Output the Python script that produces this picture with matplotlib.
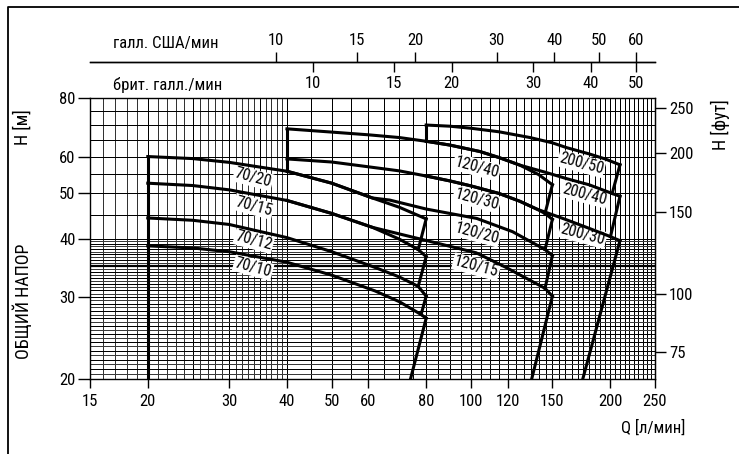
import numpy as np
import matplotlib
matplotlib.use("Agg")
import matplotlib.pyplot as plt
from matplotlib import font_manager as fm
from matplotlib.lines import Line2D
from matplotlib.ticker import NullLocator


def pick_font():
    # the original uses a narrow sans, take one if there is any
    entries = fm.fontManager.ttflist
    for want in ['Liberation Sans Narrow', 'Roboto Condensed', 'Open Sans Condensed',
                 'DejaVu Sans Condensed', 'Noto Sans Condensed', 'Noto Sans SemiCondensed']:
        if any(e.name == want for e in entries):
            return want, 'normal'
    for e in entries:
        if e.stretch in ('condensed', 'semi-condensed') and e.style == 'normal':
            return e.name, e.stretch
    return 'Roboto', 'normal'


font_name, font_stretch = pick_font()
plt.rcParams['font.family'] = [font_name, 'DejaVu Sans']
plt.rcParams['font.stretch'] = font_stretch

# axis ticks
q_ticks = [15, 20, 30, 40, 50, 60, 80, 100, 120, 150, 200, 250]
h_ticks = [20, 30, 40, 50, 60, 80]
ft_ticks = [75, 100, 150, 200, 250]
us_ticks = [10, 15, 20, 30, 40, 50, 60]
uk_ticks = [10, 15, 20, 30, 40, 50]

# pump curves, Q [l/min] vs H [m]
q_70_20 = [20, 25, 30, 40, 50, 61.2, 70, 80]
h_70_20 = [60.0, 59.4, 58.3, 55.8, 52.6, 48.9, 46.7, 44.1]
q_70_15 = [20, 25, 30, 40, 50, 61.2, 70, 76.9, 80]
h_70_15 = [52.6, 52.0, 50.9, 48.3, 45.3, 42.3, 39.9, 37.9, 36.6]
q_70_12 = [20, 25, 30, 40, 50, 62, 70, 76.9, 80]
h_70_12 = [44.3, 43.8, 42.9, 40.2, 37.5, 34.7, 33.1, 31.6, 30.1]
q_70_10 = [20, 25, 30, 40, 50, 62, 70, 78, 80]
h_70_10 = [38.6, 38.2, 37.5, 35.6, 33.4, 30.9, 29.3, 27.5, 27.0]

q_120_40 = [40, 50, 60, 70, 80, 90, 104.6, 115, 127.6, 140, 150]
h_120_40 = [68.8, 67.7, 66.8, 65.9, 64.7, 63.5, 61.5, 59.7, 57.5, 54.9, 52.2]
q_120_30 = [40, 50, 60.3, 70, 80, 90, 100, 115, 127.6, 138.7, 144.6, 150]
h_120_30 = [59.3, 58.4, 57.0, 55.9, 54.5, 53.2, 51.9, 50.0, 48.1, 46.3, 45.3, 44.0]
q_120_20 = [40, 50, 61.2, 66.7, 80, 102.9, 123, 144.6, 150]
h_120_20 = [55.8, 52.6, 48.9, 48.4, 46.3, 44.2, 41.4, 37.9, 36.8]
q_120_15 = [40, 50, 61.2, 78.7, 102.6, 118.4, 144.6, 150]
h_120_15 = [48.3, 45.3, 42.3, 39.8, 37.3, 34.8, 31.3, 30.1]

q_200_50 = [80, 90, 100, 115, 134.2, 150, 161, 180, 195, 210]
h_200_50 = [70.1, 69.7, 69.0, 67.8, 65.9, 64.2, 62.7, 60.8, 59.3, 57.6]
q_200_40 = [80, 90, 104.6, 115, 127.6, 145, 161, 180, 202, 210]
h_200_40 = [64.7, 63.5, 61.5, 59.7, 57.5, 55.5, 53.8, 52.2, 50.0, 49.3]
q_200_30 = [80, 90, 100, 115, 127.6, 138.7, 160, 180, 200.3, 210]
h_200_30 = [54.5, 53.2, 51.9, 50.0, 48.1, 46.3, 44.0, 42.1, 40.4, 39.6]

# left edges of each family (Q, H from, H to)
edge_q = [20, 40, 80]
edge_h0 = [20.0, 55.8, 64.7]
edge_h1 = [60.0, 68.8, 70.1]

# right limit lines (from curve end to next curve / to axis)
drop_q = [(80, 76.9), (80, 76.9), (80, 78), (80, 74),
          (150, 144.6), (150, 144.6), (150, 144.6), (150, 135.3),
          (210, 202), (210, 200.3), (210, 174.5)]
drop_h = [(44.1, 37.9), (36.6, 31.6), (30.1, 27.5), (27.0, 20.0),
          (52.2, 45.3), (44.0, 37.9), (36.8, 31.3), (30.1, 20.0),
          (57.6, 50.0), (49.3, 40.4), (39.6, 20.0)]

curve_names = ["70/20", "70/15", "70/12", "70/10",
               "120/40", "120/30", "120/20", "120/15",
               "200/50", "200/40", "200/30"]
curves_q = [q_70_20, q_70_15, q_70_12, q_70_10,
            q_120_40, q_120_30, q_120_20, q_120_15,
            q_200_50, q_200_40, q_200_30]
curves_h = [h_70_20, h_70_15, h_70_12, h_70_10,
            h_120_40, h_120_30, h_120_20, h_120_15,
            h_200_50, h_200_40, h_200_30]
# where the names sit
label_q = [33.8, 33.9, 33.9, 33.8, 102.9, 102.9, 102.9, 102.6, 173.2, 176.1, 174.6]
label_h = [54.0, 46.9, 39.6, 34.7, 56.9, 48.6, 41.1, 34.8, 57.9, 49.8, 40.8]

# background grid
grid_q = ([16, 17, 18, 19] + list(range(20, 40)) + list(range(40, 251, 5)))
grid_h = list(np.arange(20, 40, 0.5)) + list(range(40, 81, 5))

L_PER_USG = 3.78541
L_PER_UKG = 4.54609
M_PER_FT = 0.3048

fig = plt.figure(figsize=(7.39, 4.54), dpi=100)
ax = fig.add_axes([0.1218, 0.1652, 0.7645, 0.6183])
ax.set_xscale('log')
ax.set_yscale('log')
ax.set_xlim(15, 250)
ax.set_ylim(20, 80)

for q in grid_q:
    col = 'black' if q % 5 == 0 else '#333333'
    ax.axvline(q, color=col, lw=0.5, zorder=1, antialiased=False)
for h in grid_h:
    col = 'black' if abs(h - round(h)) < 1e-6 else '#3a3a3a'
    ax.axhline(h, color=col, lw=0.5, zorder=1, antialiased=False)
ax.axhline(35, color='black', lw=1.6, zorder=1)

for qs, hs in zip(curves_q, curves_h):
    ax.plot(qs, hs, color='black', lw=2.2, zorder=4, solid_joinstyle='miter')
for q, h0, h1 in zip(edge_q, edge_h0, edge_h1):
    ax.plot([q, q], [h0, h1], color='black', lw=2.2, zorder=4)
for qq, hh in zip(drop_q, drop_h):
    ax.plot(qq, hh, color='black', lw=2.2, zorder=4)

for name, q, h in zip(curve_names, label_q, label_h):
    ax.text(q, h, name, rotation=-15, ha='center', va='center', fontsize=11.5,
            rotation_mode='anchor', zorder=3,
            bbox=dict(facecolor='white', edgecolor='none', pad=0.8))

ax.set_xticks(q_ticks, labels=[str(t) for t in q_ticks])
ax.set_yticks(h_ticks, labels=[str(t) for t in h_ticks])
ax.xaxis.set_minor_locator(NullLocator())
ax.yaxis.set_minor_locator(NullLocator())
ax.tick_params(axis='x', length=6.5, width=1, pad=4, labelsize=12)
ax.tick_params(axis='y', length=9, width=1, pad=1.5, labelsize=12)
for s in ax.spines.values():
    s.set_linewidth(1.0)

ax_ft = ax.secondary_yaxis('right', functions=(lambda m: m / M_PER_FT,
                                                lambda f: f * M_PER_FT))
ax_ft.set_yticks(ft_ticks, labels=[str(t) for t in ft_ticks])
ax_ft.yaxis.set_minor_locator(NullLocator())
ax_ft.tick_params(length=8, width=1, pad=2, labelsize=12)

# gallon scales above the chart
ax_g = fig.add_axes([0.1218, 0.8634, 0.7645, 0.001])
ax_g.set_xscale('log')
ax_g.set_xlim(15, 250)
ax_g.set_yticks([])
ax_g.set_xticks([])
ax_g.xaxis.set_minor_locator(NullLocator())
for s in ax_g.spines.values():
    s.set_visible(False)
ax_g.patch.set_alpha(0)

ax_us = ax_g.secondary_xaxis('top', functions=(lambda l: l / L_PER_USG,
                                                lambda g: g * L_PER_USG))
ax_us.set_xticks(us_ticks, labels=[str(t) for t in us_ticks])
ax_us.xaxis.set_minor_locator(NullLocator())
ax_us.tick_params(length=7, width=1, pad=3, labelsize=12)
ax_us.spines['top'].set_linewidth(1.0)

ax_uk = ax_g.secondary_xaxis('bottom', functions=(lambda l: l / L_PER_UKG,
                                                   lambda g: g * L_PER_UKG))
ax_uk.set_xticks(uk_ticks, labels=[str(t) for t in uk_ticks])
ax_uk.xaxis.set_minor_locator(NullLocator())
ax_uk.tick_params(length=7, width=1, pad=3, labelsize=12)
ax_uk.spines['bottom'].set_linewidth(1.0)

fig.text(0.153, 0.905, "галл. США/мин", fontsize=12, ha='left', va='center')
fig.text(0.153, 0.8128, "брит. галл./мин", fontsize=12, ha='left', va='center')
fig.text(0.0311, 0.7203, "H [м]", fontsize=13, rotation=90, ha='center', va='center')
fig.text(0.0311, 0.337, "ОБЩИЙ НАПОР", fontsize=13, rotation=90, ha='center', va='center')
fig.text(0.9743, 0.7247, "H [фут]", fontsize=13, rotation=90, ha='center', va='center')
fig.text(0.8836, 0.0573, "Q [л/мин]", fontsize=12, ha='center', va='center')

# frame around the sheet
fig.add_artist(Line2D([0.0108, 0.0108, 1.01], [-0.01, 0.9846, 0.9846],
                      transform=fig.transFigure, color='black', lw=1.3))

fig.savefig("out.png", dpi=100)
